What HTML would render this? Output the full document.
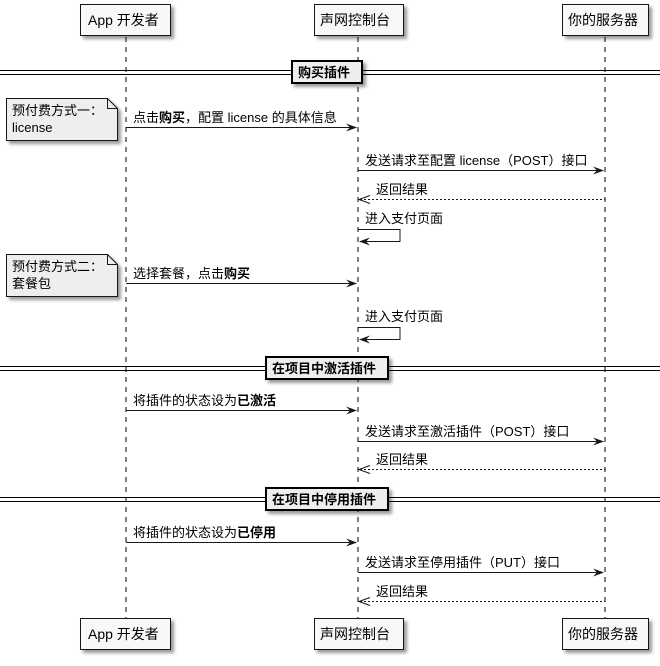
<!DOCTYPE html>
<html><head><meta charset="utf-8"><style>
body{margin:0;background:#fff}
svg text{font-family:"Liberation Sans","Noto Sans CJK SC",sans-serif;font-size:13px;fill:#000}
</style></head><body>
<svg width="660" height="661" viewBox="0 0 660 661" xmlns="http://www.w3.org/2000/svg">
<defs>
<filter id="sh" x="-20%" y="-20%" width="150%" height="160%"><feDropShadow dx="3" dy="3" stdDeviation="1.5" flood-color="#000" flood-opacity="0.4"/></filter>
</defs>
<!-- lifelines -->
<g stroke="#000" stroke-dasharray="5,5" stroke-width="1">
<line x1="126" y1="37" x2="126" y2="618"/>
<line x1="358" y1="37" x2="358" y2="618"/>
<line x1="605" y1="37" x2="605" y2="618"/>
</g>
<!-- participants -->
<g fill="#f8f8f8" stroke="#181818" stroke-width="1" filter="url(#sh)">
<rect x="80.5" y="4.5" width="90" height="31"/>
<rect x="314.5" y="4.5" width="89" height="31"/>
<rect x="562.5" y="4.5" width="86" height="31"/>
<rect x="80.5" y="618.5" width="90" height="31"/>
<rect x="314.5" y="618.5" width="89" height="31"/>
<rect x="562.5" y="618.5" width="86" height="31"/>
</g>
<g style="font-size:14px">
<text x="88" y="25" style="font-size:14px">App 开发者</text>
<text x="320" y="25" style="font-size:14px">声网控制台</text>
<text x="568" y="25" style="font-size:14px">你的服务器</text>
<text x="88" y="639" style="font-size:14px">App 开发者</text>
<text x="320" y="639" style="font-size:14px">声网控制台</text>
<text x="568" y="639" style="font-size:14px">你的服务器</text>
</g>
<!-- dividers -->
<g stroke="#000" stroke-width="1">
<line x1="0" y1="70.5" x2="660" y2="70.5"/><line x1="0" y1="74.5" x2="660" y2="74.5"/>
<line x1="0" y1="366.5" x2="660" y2="366.5"/><line x1="0" y1="370.5" x2="660" y2="370.5"/>
<line x1="0" y1="497.5" x2="660" y2="497.5"/><line x1="0" y1="501.5" x2="660" y2="501.5"/>
</g>
<g fill="#eee" stroke="#000" stroke-width="2" filter="url(#sh)">
<rect x="292" y="61" width="70" height="22"/>
<rect x="266" y="357" width="122" height="22"/>
<rect x="266" y="488" width="122" height="22"/>
</g>
<g font-weight="bold">
<text x="298" y="77" font-weight="bold">购买插件</text>
<text x="272" y="373" font-weight="bold">在项目中激活插件</text>
<text x="272" y="504" font-weight="bold">在项目中停用插件</text>
</g>
<!-- notes -->
<g fill="#eee" stroke="#181818" stroke-width="1" filter="url(#sh)">
<path d="M6.5,98.5 H107.5 L117.5,108.5 V140.5 H6.5 Z"/>
<path d="M6.5,254.5 H107.5 L117.5,264.5 V296.5 H6.5 Z"/>
</g>
<g fill="none" stroke="#181818"><path d="M107.5,98.5 V108.5 H117.5"/><path d="M107.5,254.5 V264.5 H117.5"/></g>
<text x="12" y="115">预付费方式一：</text><text x="12" y="132">license</text>
<text x="12" y="271">预付费方式二：</text><text x="12" y="288">套餐包</text>
<!-- messages -->
<g stroke="#181818" stroke-width="1" fill="none">
<line x1="126" y1="127.5" x2="356" y2="127.5"/>
<line x1="358" y1="170.5" x2="603" y2="170.5"/>
<line x1="360" y1="199.5" x2="605" y2="199.5" stroke-dasharray="2,2"/>
<polyline points="358,229.5 400,229.5 400,241.5 360,241.5"/>
<line x1="126" y1="283.5" x2="356" y2="283.5"/>
<polyline points="358,327.5 400,327.5 400,339.5 360,339.5"/>
<line x1="126" y1="410.5" x2="356" y2="410.5"/>
<line x1="358" y1="441.5" x2="603" y2="441.5"/>
<line x1="360" y1="469.5" x2="605" y2="469.5" stroke-dasharray="2,2"/>
<line x1="126" y1="542.5" x2="356" y2="542.5"/>
<line x1="358" y1="572.5" x2="603" y2="572.5"/>
<line x1="360" y1="601.5" x2="605" y2="601.5" stroke-dasharray="2,2"/>
<!-- open arrowheads -->
<polyline points="370,195.5 359,199.5 370,203.5"/>
<polyline points="370,465.5 359,469.5 370,473.5"/>
<polyline points="370,597.5 359,601.5 370,605.5"/>
</g>
<g fill="#181818">
<polygon points="346,123.5 357,127.5 346,131.5 350,127.5"/>
<polygon points="593,166.5 604,170.5 593,174.5 597,170.5"/>
<polygon points="370,237.5 359,241.5 370,245.5 366,241.5"/>
<polygon points="346,279.5 357,283.5 346,287.5 350,283.5"/>
<polygon points="370,335.5 359,339.5 370,343.5 366,339.5"/>
<polygon points="346,406.5 357,410.5 346,414.5 350,410.5"/>
<polygon points="593,437.5 604,441.5 593,445.5 597,441.5"/>
<polygon points="346,538.5 357,542.5 346,546.5 350,542.5"/>
<polygon points="593,568.5 604,572.5 593,576.5 597,572.5"/>
</g>
<text x="133" y="122">点击<tspan font-weight="bold">购买</tspan>，配置 license 的具体信息</text>
<text x="365" y="165">发送请求至配置 license（POST）接口</text>
<text x="376" y="194">返回结果</text>
<text x="365" y="223">进入支付页面</text>
<text x="133" y="278">选择套餐，点击<tspan font-weight="bold">购买</tspan></text>
<text x="365" y="321">进入支付页面</text>
<text x="133" y="405">将插件的状态设为<tspan font-weight="bold">已激活</tspan></text>
<text x="365" y="436">发送请求至激活插件（POST）接口</text>
<text x="376" y="464">返回结果</text>
<text x="133" y="537">将插件的状态设为<tspan font-weight="bold">已停用</tspan></text>
<text x="365" y="567">发送请求至停用插件（PUT）接口</text>
<text x="376" y="596">返回结果</text>
</svg>
</body></html>
